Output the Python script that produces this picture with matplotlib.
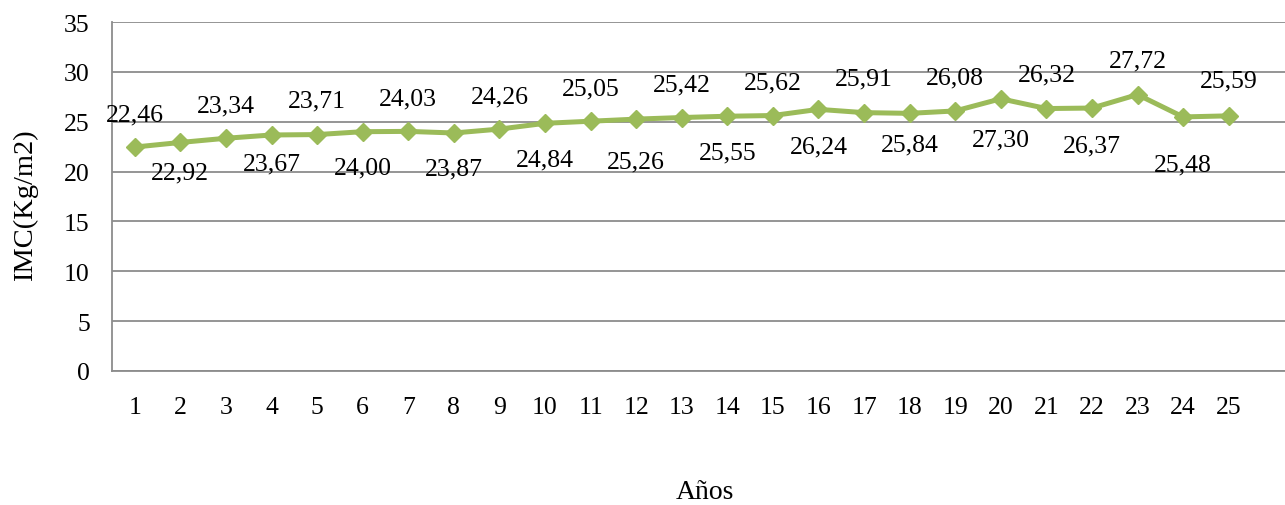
import matplotlib
matplotlib.use("Agg")
import matplotlib.pyplot as plt

plt.rcParams['font.family'] = ['Liberation Serif', 'DejaVu Serif']

years = list(range(1, 26))
imc = [22.46, 22.92, 23.34, 23.67, 23.71, 24.00, 24.03, 23.87, 24.26, 24.84,
       25.05, 25.26, 25.42, 25.55, 25.62, 26.24, 25.91, 25.84, 26.08, 27.30,
       26.32, 26.37, 27.72, 25.48, 25.59]
y_ticks = [0, 5, 10, 15, 20, 25, 30, 35]

# vertical offset (pixels) of each value label's baseline from its point
label_dy = [27, -36, 27, -34, 28, -42, 27, -41, 27, -42, 27, -48, 27,
            -42, 27, -43, 28, -37, 27, -47, 28, -43, 28, -54, 29]

W, H = 1285, 506
fig = plt.figure(figsize=(W / 100, H / 100), dpi=100)
left, right, top, bottom = 112, 1285, 23, 372
ax = fig.add_axes([left / W, 1 - bottom / H, (right - left) / W, (bottom - top) / H])

green = '#9BBB59'
grid_c = '#8C8C8C'
fs = 18.5

ax.plot(years, imc, color=green, lw=3.6, marker='D', ms=9.5, mec=green, mfc=green,
        zorder=3, clip_on=False)

# category spacing: 25 slots, the plot area continues past the last one
step = 45.58
ax.set_xlim(0.5, 0.5 + (right - left) / step)
ax.set_ylim(0, 35)
ax.set_yticks(y_ticks)
ax.set_xticks(years)
ax.set_xticklabels([str(v) for v in years])
ax.yaxis.grid(True, color=grid_c, lw=1.3)
ax.set_axisbelow(True)
ax.tick_params(axis='both', length=0, labelsize=fs)
ax.tick_params(axis='x', pad=18)
ax.tick_params(axis='y', pad=16)
for s in ['top', 'right']:
    ax.spines[s].set_visible(False)
for s in ['left', 'bottom']:
    ax.spines[s].set_color(grid_c)
    ax.spines[s].set_linewidth(1.3)

for x, v, dy in zip(years, imc, label_dy):
    ax.annotate(f"{v:.2f}".replace('.', ','), (x, v), xytext=(0, dy),
                textcoords='offset pixels', ha='center', va='baseline',
                fontsize=fs, zorder=4, annotation_clip=False)

fig.text(25 / W, 1 - 205 / H, 'IMC(Kg/m2)', rotation=90, ha='center', va='center',
         fontsize=20.5)
fig.text(705 / W, 1 - 499 / H, 'Años', ha='center', va='baseline', fontsize=20)

fig.savefig('out.png', dpi=100)
